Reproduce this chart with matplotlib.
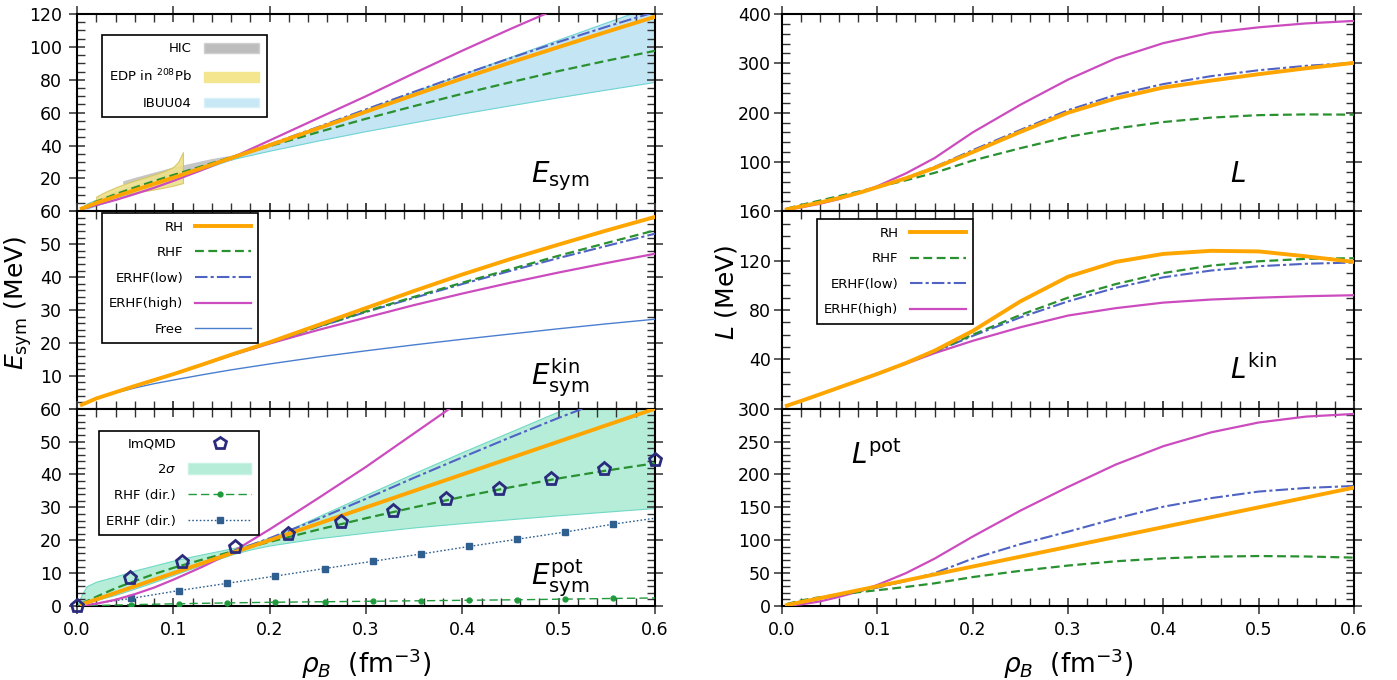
import matplotlib
matplotlib.use("Agg")
import matplotlib.pyplot as plt
from matplotlib.lines import Line2D
from matplotlib.patches import Patch
from matplotlib.ticker import AutoMinorLocator

plt.rcParams['font.family'] = ['DejaVu Sans']
plt.rcParams['mathtext.fontset'] = 'dejavusans'

# ===== data =====
rho = [0.005, 0.02, 0.04, 0.06, 0.08, 0.10, 0.13, 0.16, 0.20, 0.25, 0.30, 0.35, 0.40, 0.45, 0.50, 0.55, 0.60]

# total symmetry energy
esym_rh = [1.7, 5.1, 9.0, 12.9, 16.7, 20.5, 26.4, 32.4, 40.2, 50.4, 60.6, 70.8, 80.8, 90.5, 99.9, 109.2, 118.3]
esym_rhf = [2.0, 5.9, 10.4, 14.5, 18.4, 22.1, 27.5, 32.9, 39.6, 48.1, 56.3, 64.0, 71.5, 78.5, 85.3, 91.6, 97.6]
esym_low = [1.7, 5.1, 9.0, 12.9, 16.7, 20.5, 26.5, 32.8, 40.7, 51.2, 62.0, 72.7, 83.1, 93.2, 103.0, 112.3, 121.2]
esym_high = [1.3, 3.8, 6.9, 10.5, 14.3, 18.5, 25.2, 32.4, 43.1, 56.6, 70.0, 84.0, 97.7, 110.9, 123.6, 135.5, 146.7]

# kinetic part
ekin_rh = [1.2, 3.1, 5.0, 6.9, 8.7, 10.5, 13.4, 16.4, 20.2, 25.4, 30.6, 35.8, 40.8, 45.5, 49.9, 54.2, 58.3]
ekin_rhf = [1.2, 3.1, 5.0, 6.9, 8.7, 10.5, 13.4, 16.4, 20.1, 24.9, 29.6, 34.0, 38.3, 42.4, 46.5, 50.4, 54.2]
ekin_low = [1.2, 3.1, 5.0, 6.9, 8.7, 10.5, 13.4, 16.4, 20.1, 24.8, 29.4, 33.7, 37.9, 41.9, 45.8, 49.5, 53.2]
ekin_high = [1.2, 3.1, 5.0, 6.9, 8.7, 10.5, 13.3, 16.2, 19.8, 23.9, 27.7, 31.5, 35.0, 38.3, 41.4, 44.3, 47.1]
ekin_free = [1.2, 3.0, 4.8, 6.3, 7.6, 8.7, 10.3, 11.8, 13.6, 15.7, 17.6, 19.4, 21.1, 22.7, 24.3, 25.8, 27.2]

# potential part
epot_rh = [0.5, 2.0, 4.0, 6.0, 8.0, 10.0, 13.0, 16.0, 20.0, 25.0, 30.0, 35.0, 40.0, 45.0, 50.0, 55.0, 60.0]
epot_rhf = [0.8, 2.8, 5.4, 7.6, 9.7, 11.6, 14.1, 16.5, 19.5, 23.2, 26.7, 30.0, 33.2, 36.1, 38.8, 41.2, 43.4]
epot_low = [0.5, 2.0, 4.0, 6.0, 8.0, 10.0, 13.1, 16.4, 20.6, 26.4, 32.6, 39.0, 45.2, 51.3, 57.2, 62.8, 68.0]
epot_high = [0.1, 0.7, 1.9, 3.6, 5.6, 8.0, 11.9, 16.2, 23.3, 32.7, 42.3, 52.5, 62.7, 72.6, 82.2, 91.2, 99.6]

# slope L
l_rh = [4, 10, 18, 27, 37, 49, 67, 88, 120, 161, 200, 229, 251, 265, 278, 290, 301]
l_rhf = [5.5, 13, 22, 31, 40, 49, 63, 78, 103, 128, 151, 168, 181, 190, 195, 196.5, 196]
l_low = [4, 10, 18, 27, 37, 49, 68, 90, 124, 165, 205, 236, 258, 274, 286, 295, 301]
l_high = [3.5, 8, 15.5, 25, 37, 51, 77, 108, 160, 216, 267, 310, 341, 362, 373, 381, 386]

lkin_rh = [2.4, 6.3, 11.7, 17.2, 22.7, 28.2, 37, 47, 63, 87, 107, 119, 125.5, 128, 127.5, 123.5, 119]
lkin_rhf = [2.4, 6.3, 11.7, 17.2, 22.7, 28.2, 37, 46.5, 60, 76, 90, 101, 110, 116, 119.5, 121.5, 122]
lkin_low = [2.4, 6.3, 11.7, 17.2, 22.7, 28.2, 37, 46, 59, 74, 87, 98, 106.5, 112, 115.5, 117.5, 118.5]
lkin_high = [2.4, 6.3, 11.7, 17.2, 22.7, 28.2, 36.5, 45, 55, 66, 75.5, 81.5, 86, 88.5, 90, 91.2, 92]

lpot_rh = [1.5, 6, 12, 18, 24, 30, 39, 48, 60, 75, 90, 105, 120, 135, 150, 165, 180]
lpot_rhf = [3, 8.5, 13.5, 17.5, 21, 24, 29, 34.5, 44, 53.5, 61.5, 68, 72.5, 75, 76, 75.3, 73.6]
lpot_low = [1.5, 5.5, 11, 16.5, 22, 28, 38, 50, 72, 94, 113, 133, 151, 164, 174, 179.5, 182.5]
lpot_high = [0.5, 2.5, 7, 14, 22, 32, 50, 72, 105.6, 145, 181, 215, 243, 264, 279, 288, 292]

# constraint bands (top left)
ibuu_rho = [0.01, 0.04, 0.08, 0.12, 0.16, 0.20, 0.25, 0.30, 0.35, 0.40, 0.45, 0.50, 0.55, 0.60]
ibuu_lo = [1.7, 7.4, 15.3, 23.4, 31.6, 36.9, 43.0, 48.8, 54.2, 59.5, 64.5, 69.4, 74.1, 78.7]
ibuu_hi = [4.7, 12.1, 19.6, 25.9, 31.6, 40.8, 51.5, 62.0, 72.8, 83.5, 94.0, 104.5, 115.0, 125.5]

hic_rho = [0.048, 0.06, 0.08, 0.10, 0.12, 0.14, 0.162]
hic_lo = [16.2, 17.6, 19.8, 22.0, 24.8, 27.8, 31.0]
hic_hi = [18.3, 20.3, 23.5, 26.6, 29.2, 31.8, 34.0]

edp_rho = [0.02, 0.03, 0.04, 0.05, 0.06, 0.07, 0.08, 0.09, 0.10, 0.105, 0.11]
edp_lo = [6.7, 8.3, 9.7, 10.6, 11.4, 12.3, 13.3, 14.4, 15.6, 16.4, 17.2]
edp_hi = [9.0, 12.0, 14.6, 16.8, 18.8, 20.6, 22.4, 24.3, 27.0, 30.0, 36.0]

# ImQMD + 2 sigma band (bottom left)
qmd_rho = [0.0, 0.055, 0.109, 0.164, 0.219, 0.274, 0.328, 0.383, 0.438, 0.492, 0.547, 0.6]
qmd_e = [0.0, 8.4, 13.5, 17.8, 21.8, 25.6, 29.0, 32.5, 35.6, 38.7, 41.7, 44.5]

s2_rho = [0.0, 0.005, 0.01, 0.02, 0.04, 0.06, 0.08, 0.10, 0.12, 0.14, 0.16, 0.18, 0.20, 0.22, 0.25, 0.30, 0.35, 0.40, 0.45, 0.50, 0.55, 0.60]
s2_lo = [0.0, 0.5, 1.0, 1.8, 3.4, 5.3, 7.3, 9.4, 11.5, 13.6, 15.6, 17.2, 18.4, 19.3, 20.6, 22.3, 23.9, 25.2, 26.4, 27.6, 28.7, 29.8]
s2_hi = [0.0, 3.5, 6.0, 7.4, 9.0, 10.8, 12.3, 13.8, 15.1, 16.3, 17.5, 18.8, 20.8, 23.2, 27.2, 33.8, 40.4, 46.8, 53.0, 59.2, 65.0, 70.5]

# direct (Hartree) contributions
dir_rho = [0.0, 0.056, 0.106, 0.156, 0.206, 0.257, 0.307, 0.357, 0.407, 0.457, 0.507, 0.557, 0.6]
rhf_dir = [0.0, 0.4, 0.7, 0.95, 1.15, 1.3, 1.45, 1.6, 1.75, 1.9, 2.1, 2.3, 2.45]
erhf_dir = [0.0, 2.3, 4.7, 6.9, 9.1, 11.4, 13.6, 15.8, 18.1, 20.3, 22.5, 24.9, 26.7]

# ===== styles =====
C_RH, C_RHF, C_LOW, C_HIGH, C_FREE = '#ffa500', '#2a9130', '#4f63c4', '#cc4cbf', '#4a7fd0'
st_rh = dict(color=C_RH, lw=2.8, ls='-')
st_rhf = dict(color=C_RHF, lw=1.6, ls=(0, (4, 2)))
st_low = dict(color=C_LOW, lw=1.5, ls=(0, (6, 1.5, 1.5, 1.5)))
st_high = dict(color=C_HIGH, lw=1.6, ls='-')
st_free = dict(color=C_FREE, lw=1.0, ls='-')

fig = plt.figure(figsize=(13.97, 6.8), dpi=100)
h = 0.2902
bottoms = [0.1088 + 2 * h, 0.1088 + h, 0.1088]
axL = [fig.add_axes([0.0551, b, 0.4137, h]) for b in bottoms]
axR = [fig.add_axes([0.5598, b, 0.4094, h]) for b in bottoms]


def style(ax, ymax, major, nminor, show_zero, xlabels, ypad=5):
    ax.set_xlim(0, 0.6)
    ax.set_ylim(0, ymax)
    ticks = list(range(0, ymax + 1, major))
    ax.set_yticks(ticks)
    ax.set_yticklabels([str(t) if (t != 0 or show_zero) else '' for t in ticks])
    ax.set_xticks([0.0, 0.1, 0.2, 0.3, 0.4, 0.5, 0.6])
    if not xlabels:
        ax.set_xticklabels([])
    ax.xaxis.set_minor_locator(AutoMinorLocator(5))
    ax.yaxis.set_minor_locator(AutoMinorLocator(nminor))
    ax.tick_params(which='major', direction='inout', length=12, width=1.2, color='0.25',
                   top=True, right=True, labelsize=12.5, pad=5)
    ax.tick_params(axis='y', which='major', pad=ypad)
    ax.tick_params(which='minor', direction='in', length=6, width=1.0, color='0.2',
                   top=True, right=True)
    for s in ax.spines.values():
        s.set_linewidth(1.5)


def leg(ax, handles, labels, anchor, hl=4.2, hh=0.7):
    lg = ax.legend(handles, labels, loc='upper left', bbox_to_anchor=anchor, markerfirst=False,
                   fontsize=9.5, frameon=True, fancybox=False, edgecolor='black', framealpha=1,
                   handlelength=hl, handleheight=hh, labelspacing=0.95, borderpad=0.55,
                   handletextpad=0.9, borderaxespad=0)
    lg.get_frame().set_linewidth(1.2)
    lg.set_zorder(10)
    return lg


# ----- top left: E_sym -----
ax = axL[0]
ax.fill_between(ibuu_rho, ibuu_lo, ibuu_hi, facecolor='#c3e5f4', edgecolor='#6fd3d3', lw=0.8, zorder=1)
ax.fill_between(hic_rho, hic_lo, hic_hi, facecolor='#b8b8b8', edgecolor='none', alpha=0.8, zorder=2)
ax.fill_between(edp_rho, edp_lo, edp_hi, facecolor='#eee08a', edgecolor='#d6c45a', lw=0.8, alpha=0.9, zorder=2)
ax.plot(rho, esym_high, zorder=3, **st_high)
ax.plot(rho, esym_rhf, zorder=3, **st_rhf)
ax.plot(rho, esym_low, zorder=3, **st_low)
ax.plot(rho, esym_rh, zorder=4, **st_rh)
style(ax, 120, 20, 4, False, False)
ax.text(0.785, 0.15, r'$E_{\rm sym}$', transform=ax.transAxes, fontsize=20)
leg(ax, [Patch(facecolor='#bdbdbd', edgecolor='#d0d0d0'),
         Patch(facecolor='#f3e68e', edgecolor='#f3e68e'),
         Patch(facecolor='#c9e8f6', edgecolor='#d8f0f8')],
    ['HIC', 'EDP in $^{208}$Pb', 'IBUU04'], (0.043, 0.893), hl=4.2, hh=0.75)

# ----- middle left: E_sym^kin -----
ax = axL[1]
ax.plot(rho, ekin_free, zorder=3, **st_free)
ax.plot(rho, ekin_high, zorder=3, **st_high)
ax.plot(rho, ekin_low, zorder=3, **st_low)
ax.plot(rho, ekin_rhf, zorder=3, **st_rhf)
ax.plot(rho, ekin_rh, zorder=4, **st_rh)
style(ax, 60, 10, 5, False, False)
ax.text(0.785, 0.12, r'$E_{\rm sym}^{\rm kin}$', transform=ax.transAxes, fontsize=20)
leg(ax, [Line2D([], [], **st_rh), Line2D([], [], **st_rhf), Line2D([], [], **st_low),
         Line2D([], [], **st_high), Line2D([], [], **st_free)],
    ['RH', 'RHF', 'ERHF(low)', 'ERHF(high)', 'Free'], (0.043, 0.99))

# ----- bottom left: E_sym^pot -----
ax = axL[2]
ax.fill_between(s2_rho, s2_lo, s2_hi, facecolor='#b5edd9', edgecolor='#6fd9c6', lw=0.8, zorder=1)
ax.plot(dir_rho, rhf_dir, color='#1f9a3c', lw=1.0, ls=(0, (6, 3)), marker='o', ms=3.5,
        markevery=slice(1, 12), zorder=3)
ax.plot(dir_rho, erhf_dir, color='#2f5f8f', lw=1.0, ls=(0, (1.2, 1.5)), marker='s', ms=3.8,
        markevery=slice(1, 12), zorder=3)
ax.plot(rho, epot_high, zorder=3, **st_high)
ax.plot(rho, epot_low, zorder=3, **st_low)
ax.plot(rho, epot_rhf, zorder=3, **st_rhf)
ax.plot(rho, epot_rh, zorder=4, **st_rh)
ax.plot(qmd_rho, qmd_e, ls='none', marker='p', ms=9.5, mfc='none', mec='#2b2b7e', mew=2.0,
        zorder=6, clip_on=False)
style(ax, 60, 10, 5, True, True)
ax.text(0.785, 0.11, r'$E_{\rm sym}^{\rm pot}$', transform=ax.transAxes, fontsize=20)
leg(ax, [Line2D([], [], ls='none', marker='p', ms=9, mfc='none', mec='#2b2b7e', mew=2.0),
         Patch(facecolor='#b5edd9', edgecolor='#c8f2e2'),
         Line2D([], [], color='#1f9a3c', lw=1.0, ls=(0, (6, 3)), marker='o', ms=3.5, markevery=[1]),
         Line2D([], [], color='#2f5f8f', lw=1.0, ls=(0, (1.2, 1.5)), marker='s', ms=3.8, markevery=[1])],
    ['ImQMD', '2$\\sigma$', 'RHF (dir.)', 'ERHF (dir.)'], (0.038, 0.889), hl=4.8, hh=0.9)
ax.set_xlabel(r'$\rho_B$  (fm$^{-3}$)', fontsize=19, labelpad=5)

# ----- right column: L -----
ax = axR[0]
ax.plot(rho, l_high, zorder=3, **st_high)
ax.plot(rho, l_rhf, zorder=3, **st_rhf)
ax.plot(rho, l_low, zorder=3, **st_low)
ax.plot(rho, l_rh, zorder=4, **st_rh)
style(ax, 400, 100, 5, False, False, ypad=2)
ax.text(0.783, 0.15, r'$L$', transform=ax.transAxes, fontsize=20)

ax = axR[1]
ax.plot(rho, lkin_high, zorder=3, **st_high)
ax.plot(rho, lkin_low, zorder=3, **st_low)
ax.plot(rho, lkin_rhf, zorder=3, **st_rhf)
ax.plot(rho, lkin_rh, zorder=4, **st_rh)
style(ax, 160, 40, 4, False, False, ypad=2)
ax.text(0.783, 0.15, r'$L^{\rm kin}$', transform=ax.transAxes, fontsize=20)
leg(ax, [Line2D([], [], **st_rh), Line2D([], [], **st_rhf), Line2D([], [], **st_low),
         Line2D([], [], **st_high)],
    ['RH', 'RHF', 'ERHF(low)', 'ERHF(high)'], (0.061, 0.959))

ax = axR[2]
ax.plot(rho, lpot_high, zorder=3, **st_high)
ax.plot(rho, lpot_low, zorder=3, **st_low)
ax.plot(rho, lpot_rhf, zorder=3, **st_rhf)
ax.plot(rho, lpot_rh, zorder=4, **st_rh)
style(ax, 300, 50, 5, True, True, ypad=2)
ax.text(0.12, 0.72, r'$L^{\rm pot}$', transform=ax.transAxes, fontsize=20)
ax.set_xlabel(r'$\rho_B$  (fm$^{-3}$)', fontsize=19, labelpad=5)

fig.text(0.013, 0.555, r'$E_{\rm sym}$ (MeV)', rotation=90, ha='center', va='center', fontsize=18)
fig.text(0.52, 0.57, r'$L$ (MeV)', rotation=90, ha='center', va='center', fontsize=18)

fig.savefig('out.png', dpi=100)
